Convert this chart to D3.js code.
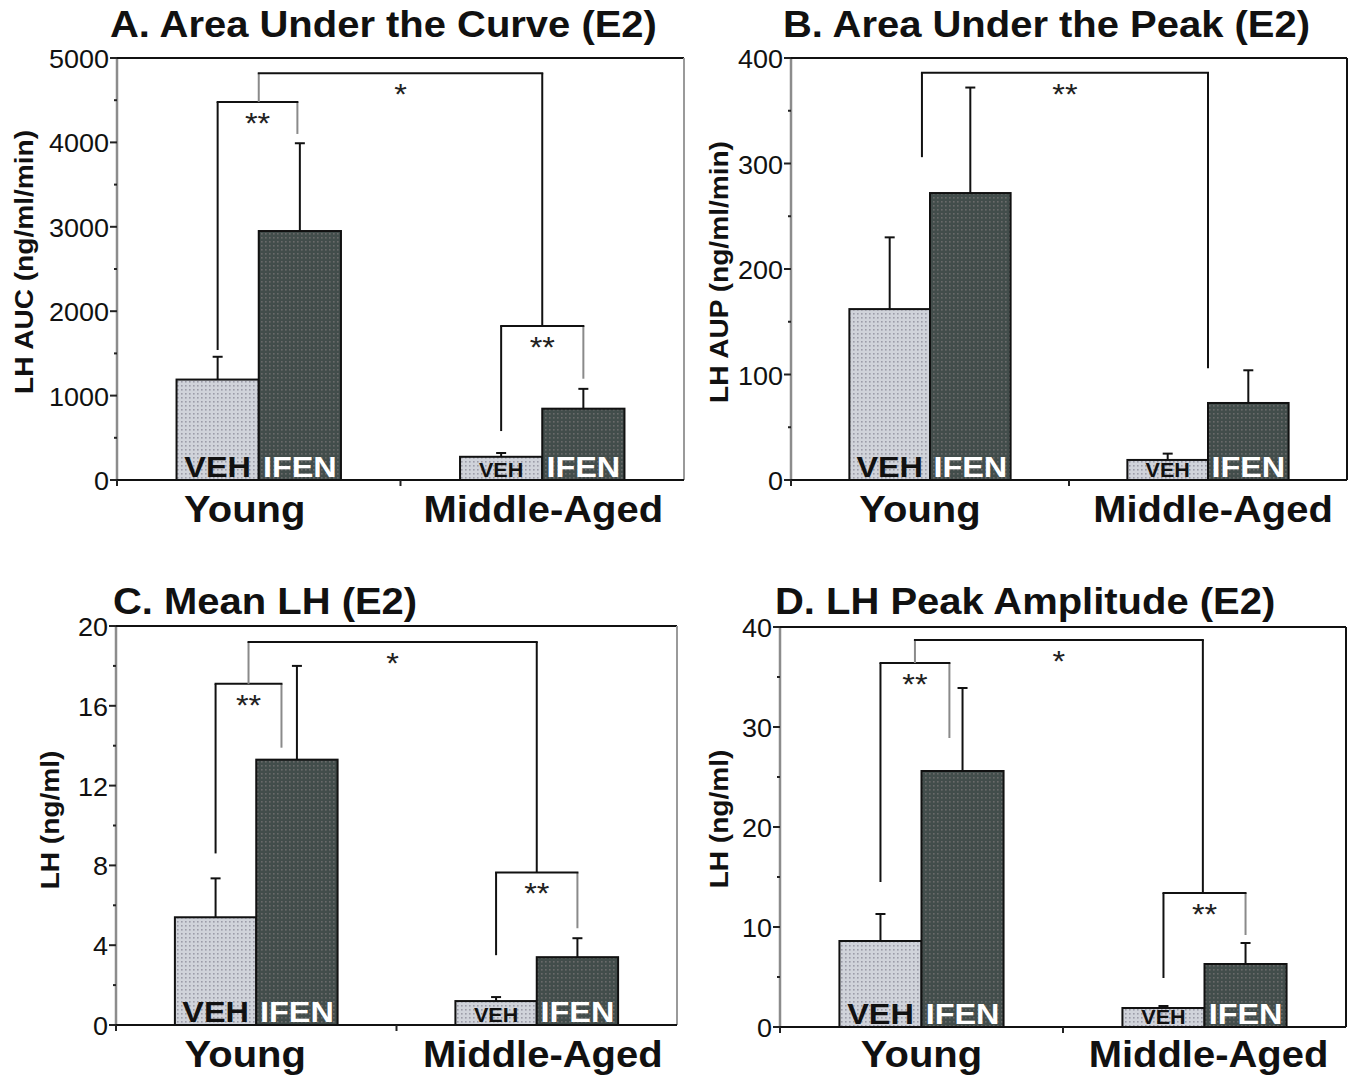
<!DOCTYPE html>
<html>
<head>
<meta charset="utf-8">
<script src="https://cdn.jsdelivr.net/npm/d3@7"></script>
<style>
  body { margin: 0; background: #fff; }
  svg { display: block; }
</style>
</head>
<body>
<script>
// ---- data ----
var groups = ["Young", "Middle-Aged"];
var treatments = ["VEH", "IFEN"];

// A. LH AUC (ng/ml/min): [group][treatment]
var aucMean = [[1190, 2950], [275, 845]];
var aucErrTop = [[1460, 3990], [320, 1080]];
// B. LH AUP (ng/ml/min)
var aupMean = [[162, 272], [19, 73]];
var aupErrTop = [[230, 372], [25, 104]];
// C. Mean LH (ng/ml)
var meanLH = [[5.4, 13.3], [1.2, 3.4]];
var meanLHErrTop = [[7.35, 18.0], [1.4, 4.35]];
// D. LH peak amplitude (ng/ml)
var ampMean = [[8.6, 25.6], [1.9, 6.3]];
var ampErrTop = [[11.3, 33.9], [2.1, 8.4]];

var titles = ["A. Area Under the Curve (E2)", "B. Area Under the Peak (E2)",
              "C. Mean LH (E2)", "D. LH Peak Amplitude (E2)"];
var yLabels = ["LH AUC (ng/ml/min)", "LH AUP (ng/ml/min)", "LH (ng/ml)", "LH (ng/ml)"];

var ticksA = [0, 1000, 2000, 3000, 4000, 5000];
var ticksB = [0, 100, 200, 300, 400];
var ticksC = [0, 4, 8, 12, 16, 20];
var ticksD = [0, 10, 20, 30, 40];

// significance brackets: legs given as [group index, offset in bar widths from group centre],
// heights in data units (top of bracket, bottom of left leg, bottom of right leg)
var sigA = [
  { mark: "**", x1: [0, -0.5], x2: [0, 0.47], top: 4480, b1: 1540, b2: 4100 },
  { mark: "*",  x1: [0, 0],    x2: [1, 0],    top: 4820, b1: 4480, b2: 1825 },
  { mark: "**", x1: [1, -0.5], x2: [1, 0.5],  top: 1825, b1: 580,  b2: 1200 }
];
var sigB = [
  { mark: "**", x1: [0, -0.1], x2: [1, 0], top: 386, b1: 306, b2: 106 }
];
var sigC = [
  { mark: "**", x1: [0, -0.5],   x2: [0, 0.31], top: 17.1, b1: 8.6, b2: 13.9 },
  { mark: "*",  x1: [0, -0.095], x2: [1, 0],    top: 19.2, b1: 17.1, b2: 7.65 },
  { mark: "**", x1: [1, -0.5],   x2: [1, 0.5],  top: 7.65, b1: 3.5, b2: 4.85 }
];
var sigD = [
  { mark: "**", x1: [0, -0.5],  x2: [0, 0.34],  top: 36.4, b1: 14.5, b2: 28.9 },
  { mark: "*",  x1: [0, -0.08], x2: [1, -0.02], top: 38.7, b1: 36.4, b2: 13.4 },
  { mark: "**", x1: [1, -0.5],  x2: [1, 0.5],   top: 13.4, b1: 4.9,  b2: 9.2 }
];

// ---- layout ----
var W = 1355, H = 1079;
var SX = 1.08; // the figure is slightly stretched sideways
var FONT = "'Liberation Sans', Arial, Helvetica, sans-serif";

var panels = [
  { mean: aucMean, err: aucErrTop, ticks: ticksA, minor: 500, sig: sigA,
    x0: 117, x1: 684, y0: 480, y1: 58, titleX: 110, titleY: 37, labX: 33, labY: 262, catY: 522, catDx: [-14, 1] },
  { mean: aupMean, err: aupErrTop, ticks: ticksB, minor: 50, sig: sigB,
    x0: 791, x1: 1347, y0: 480, y1: 58, titleX: 783, titleY: 37, labX: 728, labY: 272, catY: 522, catDx: [-10, 5] },
  { mean: meanLH, err: meanLHErrTop, ticks: ticksC, minor: 2, sig: sigC,
    x0: 116, x1: 677, y0: 1025, y1: 626, titleX: 113, titleY: 614, labX: 59, labY: 820, catY: 1067, catDx: [-11, 6] },
  { mean: ampMean, err: ampErrTop, ticks: ticksD, minor: 5, sig: sigD,
    x0: 780, x1: 1346, y0: 1027, y1: 627, titleX: 775, titleY: 614, labX: 728, labY: 819, catY: 1067, catDx: [0, 4] }
];

var svg = d3.select("body").append("svg")
  .attr("width", W)
  .attr("height", H);

// stipple patterns for the two bar fills
var defs = svg.append("defs");
var pVeh = defs.append("pattern").attr("id", "vehFill")
  .attr("width", 4).attr("height", 4).attr("patternUnits", "userSpaceOnUse");
pVeh.append("rect").attr("width", 4).attr("height", 4).attr("fill", "#d0d3da");
pVeh.append("rect").attr("x", 1).attr("y", 1).attr("width", 1.6).attr("height", 1.6).attr("fill", "#9c9ca8");
var pIfen = defs.append("pattern").attr("id", "ifenFill")
  .attr("width", 4).attr("height", 4).attr("patternUnits", "userSpaceOnUse");
pIfen.append("rect").attr("width", 4).attr("height", 4).attr("fill", "#424d4b");
pIfen.append("rect").attr("x", 1).attr("y", 1).attr("width", 1.6).attr("height", 1.6).attr("fill", "#6a6a6a");

// text helper: stretched a little horizontally like the source image
function stext(sel, x, y, str, size, weight, anchor, fill, rot) {
  return sel.append("text")
    .attr("transform", "translate(" + x + "," + y + ")" + (rot ? " rotate(-90)" : "") + " scale(" + SX + ",1)")
    .attr("text-anchor", anchor)
    .style("font-family", FONT)
    .style("font-size", size + "px")
    .style("font-weight", weight)
    .style("fill", fill)
    .text(str);
}

panels.forEach(function(p, pi) {
  var g = svg.append("g");

  var y = d3.scaleLinear()
    .domain([0, p.ticks[p.ticks.length - 1]])
    .range([p.y0, p.y1]);

  var xg = d3.scalePoint()
    .domain(groups)
    .range([p.x0, p.x1])
    .padding(0.5);

  var bw = (p.x1 - p.x0) * 0.145;
  var xt = d3.scaleBand()
    .domain(treatments)
    .range([-bw, bw]);

  function legX(leg) {
    return xg(groups[leg[0]]) + leg[1] * bw;
  }

  // bars
  groups.forEach(function(grp, gi) {
    treatments.forEach(function(tr, ti) {
      var bx = xg(grp) + xt(tr);
      g.append("rect")
        .attr("x", bx)
        .attr("y", y(p.mean[gi][ti]))
        .attr("width", xt.bandwidth())
        .attr("height", y(0) - y(p.mean[gi][ti]))
        .attr("fill", ti === 0 ? "url(#vehFill)" : "url(#ifenFill)")
        .attr("stroke", "#111")
        .attr("stroke-width", 2);

      // error bar
      var cx = bx + xt.bandwidth() / 2;
      g.append("line")
        .attr("x1", cx).attr("x2", cx)
        .attr("y1", y(p.mean[gi][ti])).attr("y2", y(p.err[gi][ti]))
        .attr("stroke", "#111").attr("stroke-width", 2);
      g.append("line")
        .attr("x1", cx - 5).attr("x2", cx + 5)
        .attr("y1", y(p.err[gi][ti])).attr("y2", y(p.err[gi][ti]))
        .attr("stroke", "#111").attr("stroke-width", 2);

      // label inside the bar
      var small = gi === 1 && ti === 0;
      stext(g, cx, y(0) - 3, tr, small ? 20 : 30, "bold", "middle", ti === 0 ? "#111" : "#fff");
    });
  });

  // significance brackets
  p.sig.forEach(function(s) {
    var xa = legX(s.x1), xb = legX(s.x2), yt = y(s.top);
    var legCol1 = s.mark === "*" ? "#8a8a8a" : "#111";
    var legCol2 = s.mark === "**" && p.sig.length > 1 ? "#8a8a8a" : "#111";
    g.append("line").attr("x1", xa).attr("x2", xa).attr("y1", y(s.b1)).attr("y2", yt)
      .attr("stroke", legCol1).attr("stroke-width", 2);
    g.append("line").attr("x1", xb).attr("x2", xb).attr("y1", y(s.b2)).attr("y2", yt)
      .attr("stroke", legCol2).attr("stroke-width", 2);
    g.append("line").attr("x1", xa - 1).attr("x2", xb + 1).attr("y1", yt).attr("y2", yt)
      .attr("stroke", "#111").attr("stroke-width", 2);
    stext(g, (xa + xb) / 2, yt + 31, s.mark, 30, "normal", "middle", "#222");
  });

  // y axis (gray stippled line) with major and minor ticks
  g.append("line")
    .attr("x1", p.x0).attr("x2", p.x0).attr("y1", p.y0).attr("y2", p.y1)
    .attr("stroke", "#8c8c8c").attr("stroke-width", 2.5);
  var top = p.ticks[p.ticks.length - 1];
  d3.range(0, top + p.minor / 2, p.minor).forEach(function(v) {
    var major = p.ticks.indexOf(v) >= 0;
    g.append("line")
      .attr("x1", p.x0 - (major ? 7 : 3)).attr("x2", p.x0)
      .attr("y1", y(v)).attr("y2", y(v))
      .attr("stroke", "#222").attr("stroke-width", 2);
  });
  p.ticks.forEach(function(v) {
    stext(g, p.x0 - 8, y(v) + 10, String(v), 25, "normal", "end", "#111");
  });

  // frame: top black, right gray
  g.append("line").attr("x1", p.x0).attr("x2", p.x1).attr("y1", p.y1).attr("y2", p.y1)
    .attr("stroke", "#111").attr("stroke-width", 2);
  g.append("line").attr("x1", p.x1).attr("x2", p.x1).attr("y1", p.y1).attr("y2", p.y0)
    .attr("stroke", pi % 2 === 0 ? "#9a9a9a" : "#111").attr("stroke-width", 2);

  // x axis
  g.append("line").attr("x1", p.x0).attr("x2", p.x1).attr("y1", p.y0).attr("y2", p.y0)
    .attr("stroke", "#111").attr("stroke-width", 2);
  [p.x0, (p.x0 + p.x1) / 2].forEach(function(tx) {
    g.append("line").attr("x1", tx).attr("x2", tx).attr("y1", p.y0).attr("y2", p.y0 + 6)
      .attr("stroke", "#222").attr("stroke-width", 2);
  });

  // category labels
  groups.forEach(function(grp, gi) {
    stext(g, xg(grp) + p.catDx[gi], p.catY, grp, 37, "bold", "middle", "#111");
  });

  // y label
  stext(g, p.labX, p.labY, yLabels[pi], 26, "bold", "middle", "#111", true);

  // title
  stext(g, p.titleX, p.titleY, titles[pi], 37, "bold", "start", "#111");
});
</script>
</body>
</html>
